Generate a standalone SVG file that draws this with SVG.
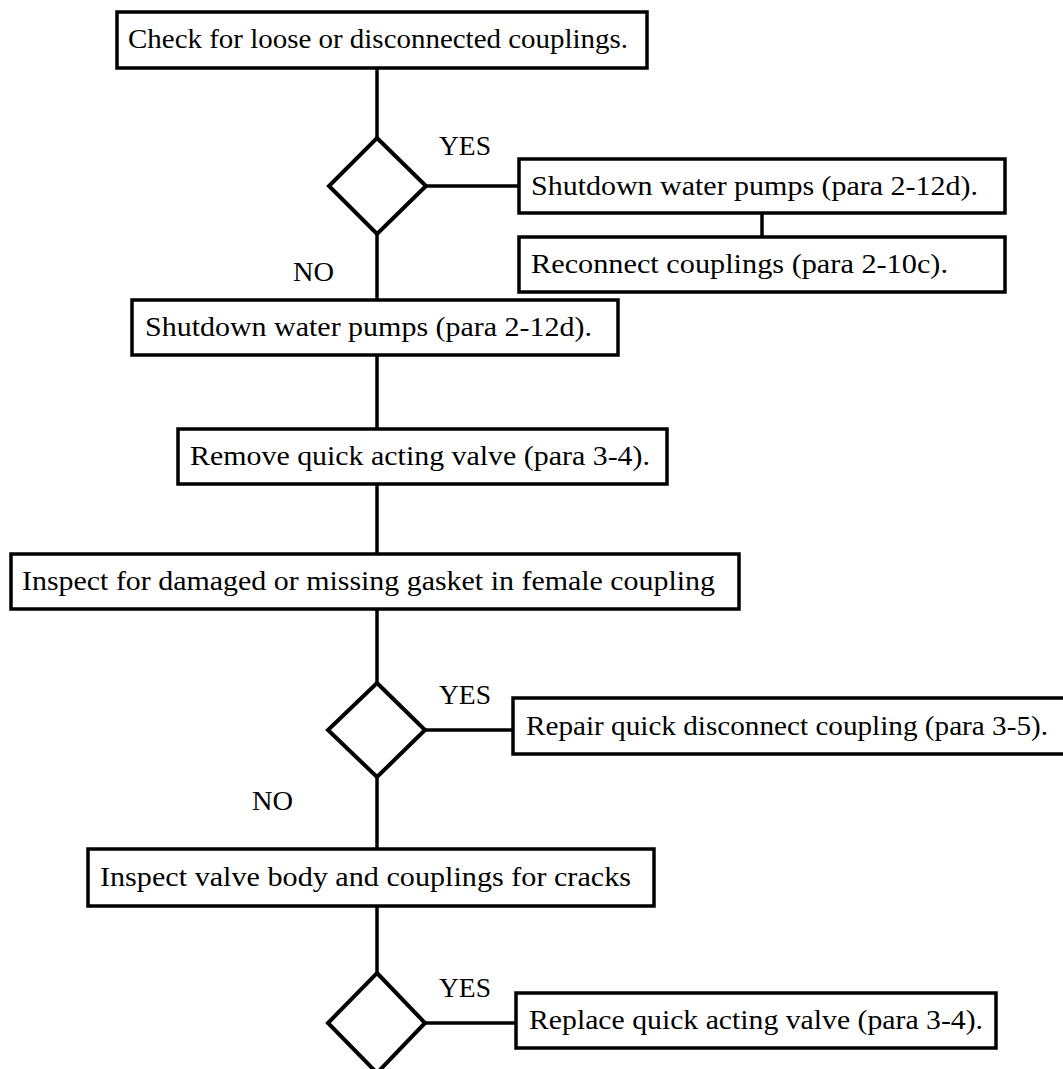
<svg xmlns="http://www.w3.org/2000/svg" width="1063" height="1069" viewBox="0 0 1063 1069">
<style>
.box{fill:#fff;stroke:#000;stroke-width:3.5}
.dia{fill:#fff;stroke:#000;stroke-width:4;stroke-linejoin:miter}
.ln{stroke:#000;stroke-width:3.5;fill:none}
text{font-family:"Liberation Serif","Times New Roman",serif;font-size:28px;fill:#000}
</style>
<rect width="1063" height="1069" fill="#fff"/>
<g id="connectors">
<line class="ln" x1="377" y1="68" x2="377" y2="139"/>
<line class="ln" x1="426" y1="186" x2="519" y2="186"/>
<line class="ln" x1="762" y1="213" x2="762" y2="237"/>
<line class="ln" x1="377" y1="233" x2="377" y2="300"/>
<line class="ln" x1="377" y1="355" x2="377" y2="429"/>
<line class="ln" x1="377" y1="484" x2="377" y2="554"/>
<line class="ln" x1="377" y1="609" x2="377" y2="683"/>
<line class="ln" x1="425" y1="730" x2="513" y2="730"/>
<line class="ln" x1="377" y1="777" x2="377" y2="849"/>
<line class="ln" x1="377" y1="906" x2="377" y2="973"/>
<line class="ln" x1="425" y1="1023" x2="516" y2="1023"/>
<text x="439" y="155" textLength="52" lengthAdjust="spacingAndGlyphs">YES</text>
<text x="293" y="281" textLength="41" lengthAdjust="spacingAndGlyphs">NO</text>
<text x="439" y="704" textLength="52" lengthAdjust="spacingAndGlyphs">YES</text>
<text x="252" y="810" textLength="41" lengthAdjust="spacingAndGlyphs">NO</text>
<text x="439" y="997" textLength="52" lengthAdjust="spacingAndGlyphs">YES</text>
</g>
<g id="n1">
<rect class="box" x="117" y="12" width="530" height="56"/>
<text x="128" y="48" textLength="500" lengthAdjust="spacingAndGlyphs">Check for loose or disconnected couplings.</text>
</g>
<g id="d1">
<polygon class="dia" points="377,138 426,186 377,234 329,186"/>
</g>
<g id="n2">
<rect class="box" x="519" y="159" width="486" height="54"/>
<text x="531" y="195" textLength="447" lengthAdjust="spacingAndGlyphs">Shutdown water pumps (para 2-12d).</text>
</g>
<g id="n3">
<rect class="box" x="519" y="237" width="486" height="55"/>
<text x="531" y="273" textLength="417" lengthAdjust="spacingAndGlyphs">Reconnect couplings (para 2-10c).</text>
</g>
<g id="n4">
<rect class="box" x="132" y="300" width="486" height="55"/>
<text x="145" y="336" textLength="447" lengthAdjust="spacingAndGlyphs">Shutdown water pumps (para 2-12d).</text>
</g>
<g id="n5">
<rect class="box" x="178" y="429" width="489" height="55"/>
<text x="190" y="465" textLength="460" lengthAdjust="spacingAndGlyphs">Remove quick acting valve  (para 3-4).</text>
</g>
<g id="n6">
<rect class="box" x="11" y="554" width="728" height="55"/>
<text x="22" y="590" textLength="693" lengthAdjust="spacingAndGlyphs">Inspect for damaged or missing gasket in female coupling</text>
</g>
<g id="d2">
<polygon class="dia" points="377,683 425,730 377,777 328,730"/>
</g>
<g id="n7">
<rect class="box" x="513" y="698" width="560" height="56"/>
<text x="526" y="735" textLength="522" lengthAdjust="spacingAndGlyphs">Repair quick disconnect coupling (para 3-5).</text>
</g>
<g id="n8">
<rect class="box" x="88" y="849" width="566" height="57"/>
<text x="100" y="886" textLength="531" lengthAdjust="spacingAndGlyphs">Inspect valve body and couplings for cracks</text>
</g>
<g id="d3">
<polygon class="dia" points="377,973 425,1023 377,1073 328,1023"/>
</g>
<g id="n9">
<rect class="box" x="516" y="993" width="480" height="55"/>
<text x="529" y="1029" textLength="454" lengthAdjust="spacingAndGlyphs">Replace quick acting valve (para 3-4).</text>
</g>
</svg>
